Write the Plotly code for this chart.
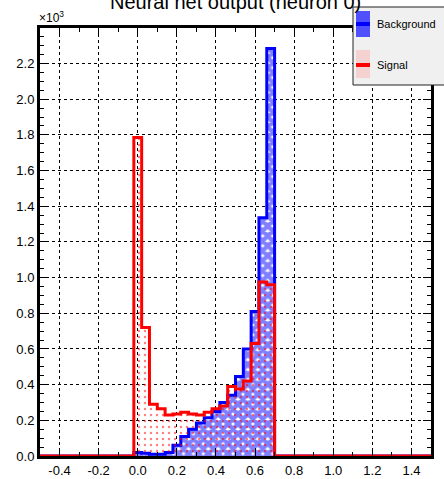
import numpy as np
import plotly.graph_objects as go

# ---- data ----
x_min, x_max, n_bins = -0.5, 1.5, 50
first_bin_center = 0.0          # first non-empty bin (width 0.04)

# counts per bin, bins centred at 0.00, 0.04, ..., 0.68
background = [20, 15, 10, 10, 20, 60, 110, 150, 185, 215, 250, 300, 340, 445, 600, 810, 1335, 2285]
signal = [1785, 720, 290, 265, 230, 235, 245, 235, 230, 245, 265, 280, 390, 375, 420, 630, 975, 960]

y_tickvals = [0, 200, 400, 600, 800, 1000, 1200, 1400, 1600, 1800, 2000, 2200]
y_ticktext = ["0.0", "0.2", "0.4", "0.6", "0.8", "1.0", "1.2", "1.4", "1.6", "1.8", "2.0", "2.2"]
x_tickvals = [-0.4, -0.2, 0.0, 0.2, 0.4, 0.6, 0.8, 1.0, 1.2, 1.4]
x_ticktext = ["-0.4", "-0.2", "0.0", "0.2", "0.4", "0.6", "0.8", "1.0", "1.2", "1.4"]

title_text = "Neural net output (neuron 0)"
bkg_name = "Background"
sig_name = "Signal"

# ---- build histograms ----
edges = np.linspace(x_min, x_max, n_bins + 1)
width = edges[1] - edges[0]
start = int(round((first_bin_center - width / 2 - x_min) / width))


def full_counts(vals):
    c = np.zeros(n_bins)
    c[start:start + len(vals)] = vals
    return np.append(c, c[-1])


W, H = 444, 479
ml, mr, mt, mb = 40, 13, 28, 23
ph = H - mt - mb
pw = W - ml - mr


def py(pix):
    return (H - mb - pix) / ph


def px(pix):
    return (pix - ml) / pw


font = "Liberation Sans, Arial, Helvetica, sans-serif"

fig = go.Figure()
fig.add_trace(go.Scatter(
    x=edges, y=full_counts(background), mode="lines", line_shape="hv",
    line=dict(color="#0000ff", width=3), fill="tozeroy",
    fillcolor="rgba(0,0,0,0)",
    fillpattern=dict(shape="x", fgcolor="#0000ff", bgcolor="white", size=7, solidity=0.85),
    name=bkg_name, showlegend=False))
fig.add_trace(go.Scatter(
    x=edges, y=full_counts(signal), mode="lines", line_shape="hv",
    line=dict(color="#ff0000", width=3), fill="tozeroy",
    fillcolor="rgba(0,0,0,0)",
    fillpattern=dict(shape=".", fgcolor="#ff0000", bgcolor="rgba(0,0,0,0)", size=6, solidity=0.12),
    name=sig_name, showlegend=False))

ymax = 1.05 * max(max(background), max(signal))

axis_common = dict(
    showline=True, linecolor="black", linewidth=3, mirror="ticks",
    ticks="inside", ticklen=8, tickwidth=1, tickcolor="black",
    showgrid=True, gridcolor="black", griddash="dot", gridwidth=1,
    zeroline=False, tickfont=dict(family=font, size=13, color="black"),
)
fig.update_xaxes(range=[x_min, x_max], tickvals=x_tickvals, ticktext=x_ticktext,
                 minor=dict(dtick=0.1, ticklen=4, ticks="inside", tickcolor="black", showgrid=False),
                 **axis_common)
fig.update_yaxes(range=[0, ymax], tickvals=y_tickvals, ticktext=y_ticktext,
                 minor=dict(dtick=50, ticklen=4, ticks="inside", tickcolor="black", showgrid=False),
                 **axis_common)

fig.add_annotation(text=title_text, xref="paper", yref="paper", x=0.5, y=py(15),
                   xanchor="center", yanchor="bottom", showarrow=False,
                   font=dict(family=font, size=20, color="black"))
fig.add_annotation(text="\u00d710<sup>3</sup>", xref="paper", yref="paper", x=px(37), y=py(27),
                   xanchor="left", yanchor="bottom", showarrow=False,
                   font=dict(family=font, size=12, color="black"))

# ---- legend box (ROOT-style TLegend) ----
shapes = [
    dict(type="rect", xref="paper", yref="paper", x0=px(353), x1=px(450), y0=py(85), y1=py(7),
         fillcolor="#f0f0f0", line=dict(color="#222222", width=1), layer="above"),
    # Background symbol
    dict(type="rect", xref="paper", yref="paper", x0=px(356), x1=px(370), y0=py(37), y1=py(11),
         fillcolor="rgba(40,40,255,0.8)", line=dict(width=0), layer="above"),
    dict(type="line", xref="paper", yref="paper", x0=px(356), x1=px(370), y0=py(24), y1=py(24),
         line=dict(color="#0000ff", width=4), layer="above"),
    # Signal symbol
    dict(type="rect", xref="paper", yref="paper", x0=px(356), x1=px(370), y0=py(78), y1=py(50),
         fillcolor="rgba(255,120,120,0.25)", line=dict(width=0), layer="above"),
    dict(type="line", xref="paper", yref="paper", x0=px(356), x1=px(370), y0=py(65), y1=py(65),
         line=dict(color="#ff0000", width=4), layer="above"),
]
fig.update_layout(shapes=shapes)
for name, ypix in [(bkg_name, 24), (sig_name, 65)]:
    fig.add_annotation(text=name, xref="paper", yref="paper", x=px(375), y=py(ypix),
                       xanchor="left", yanchor="middle", showarrow=False,
                       font=dict(family=font, size=11, color="black"))

fig.update_layout(
    width=W, height=H, autosize=False,
    margin=dict(l=ml, r=mr, t=mt, b=mb, autoexpand=False),
    paper_bgcolor="white", plot_bgcolor="white",
    showlegend=False,
)

fig.write_html("out.html", config={"displayModeBar": False},
               post_script="document.body.style.margin='0';")
